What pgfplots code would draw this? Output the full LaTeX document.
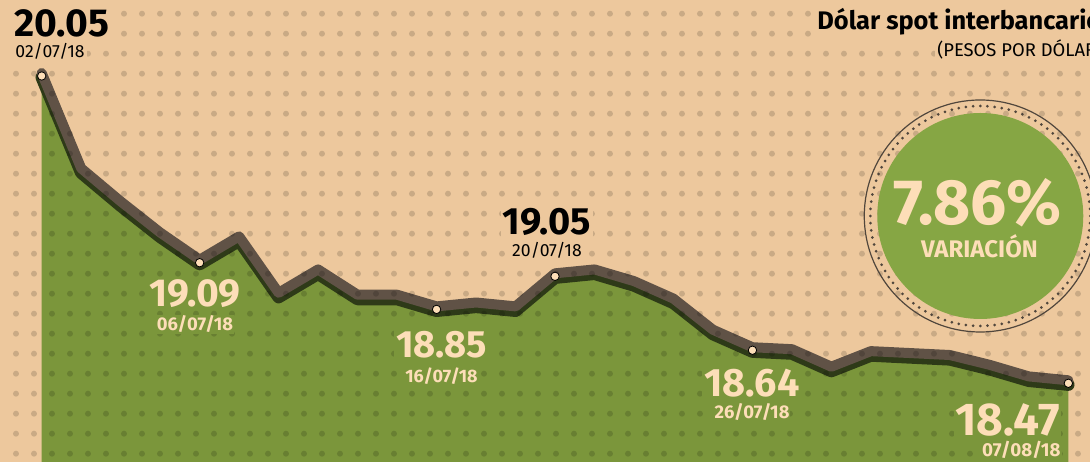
\documentclass[border=0pt]{standalone}
\usepackage{fontspec}
\setmainfont{Fira Sans}
\usepackage{pgfplots}
\usepackage{pgfplotstable}
\pgfplotsset{compat=1.18}
\definecolor{bg}{RGB}{237,200,157}
\definecolor{areagreen}{RGB}{123,150,59}
\definecolor{badgegreen}{RGB}{134,166,68}
\definecolor{brownline}{RGB}{96,82,70}
\definecolor{shadow}{RGB}{46,58,24}
\definecolor{peach}{RGB}{253,222,184}
\definecolor{ring}{RGB}{80,70,60}

\pgfplotstableread{
i v
0 20.05
1 19.56
2 19.39
3 19.23
4 19.09
5 19.21
6 18.92
7 19.04
8 18.91
9 18.91
10 18.85
11 18.87
12 18.85
13 19.02
14 19.04
15 18.98
16 18.89
17 18.73
18 18.64
19 18.63
20 18.54
21 18.62
22 18.61
23 18.60
24 18.55
25 18.49
26 18.47
}\fx

\pgfplotstableread{
i v
0 20.05
4 19.09
10 18.85
13 19.02
18 18.64
26 18.47
}\marked

\pgfplotsset{base/.style={at={(0,0)},anchor=south west,scale only axis,
  width=545bp,height=231bp,xmin=-1.0561,xmax=26.549,ymin=18.0654,ymax=20.4407,hide axis}}

\begin{document}
\begin{tikzpicture}
\useasboundingbox (0,0) rectangle (545bp,231bp);
\clip (0,0) rectangle (545bp,231bp);
\fill[bg] (0,0) rectangle (545bp,231bp);
\begin{axis}[base]
\addplot[fill=areagreen,draw=none] table[x=i,y=v]{\fx} \closedcycle;
\addplot[draw=shadow,line width=6.2bp,line join=round,line cap=round,yshift=-0.7bp] table[x=i,y=v]{\fx};
\addplot[draw=brownline,line width=5bp,line join=round,line cap=round,yshift=1.5bp] table[x=i,y=v]{\fx};
\end{axis}
\begin{scope}[x=0.5bp,y=-0.5bp,yshift=231bp]
\fill[black,opacity=0.15] \foreach \i in {0,...,60} {\foreach \j in {0,...,22} {(16+18*\i,13.7+20*\j) circle (1.5bp)}};
\draw[ring,line width=0.6bp] (980.3,216) circle (58bp);
\draw[ring,line width=1.5bp,line cap=round,dash pattern=on 0bp off 3.6bp] (980.3,216) circle (55bp);
\fill[badgegreen] (980.3,216) circle (51.5bp);
\end{scope}
\begin{axis}[base]
\addplot[only marks,mark=*,mark size=2.1bp,mark options={fill=peach,draw=none}] table[x=i,y=v]{\marked};
\end{axis}
\begin{scope}[x=0.5bp,y=-0.5bp,yshift=231bp]
\node[anchor=base west,inner sep=1bp,fill=bg,font=\bfseries\fontsize{19.5bp}{20bp}\selectfont] at (12,37) {20.05};
\node[anchor=base west,inner sep=1bp,fill=bg,font=\fontsize{8.8bp}{9bp}\selectfont] at (13,58) {02/07/18};
\node[anchor=base,inner sep=1bp,fill=areagreen,text=peach,font=\bfseries\fontsize{19.5bp}{20bp}\selectfont] at (195,307) {19.09};
\node[anchor=base,inner sep=0.5bp,fill=areagreen,text=peach,font=\bfseries\fontsize{9.2bp}{9.2bp}\selectfont] at (195,331) {06/07/18};
\node[anchor=base,inner sep=1bp,fill=bg,font=\bfseries\fontsize{19bp}{19bp}\selectfont] at (547,235) {19.05};
\node[anchor=base,inner sep=0.5bp,fill=bg,font=\fontsize{8.8bp}{9bp}\selectfont] at (547,256.7) {20/07/18};
\node[anchor=base,inner sep=1bp,fill=areagreen,text=peach,font=\bfseries\fontsize{19bp}{19bp}\selectfont] at (441.7,358) {18.85};
\node[anchor=base,inner sep=0.5bp,fill=areagreen,text=peach,font=\bfseries\fontsize{9bp}{9bp}\selectfont] at (441.5,382.7) {16/07/18};
\node[anchor=base,inner sep=1bp,fill=areagreen,text=peach,font=\bfseries\fontsize{19.8bp}{20bp}\selectfont] at (752,396.7) {18.64};
\node[anchor=base,inner sep=0.5bp,fill=areagreen,text=peach,font=\bfseries\fontsize{9.2bp}{9.2bp}\selectfont] at (752,418.3) {26/07/18};
\node[anchor=base east,inner sep=0.5bp,fill=areagreen,text=peach,font=\bfseries\fontsize{23bp}{23bp}\selectfont] at (1061,436) {18.47};
\node[anchor=base east,inner sep=0.5bp,fill=areagreen,text=peach,font=\bfseries\fontsize{9.4bp}{9.4bp}\selectfont] at (1062,456.7) {07/08/18};
\node[anchor=base,inner sep=0bp,text=peach,font=\bfseries\fontsize{32bp}{32bp}\selectfont] at (977.5,225) {7.86\%};
\node[anchor=base,inner sep=0bp,text=peach,font=\bfseries\fontsize{12bp}{12bp}\selectfont] at (979.5,257.3) {VARIACIÓN};
\node[anchor=base west,inner sep=1bp,fill=bg,font=\bfseries\fontsize{12.7bp}{13bp}\selectfont] at (815,30) {Dólar spot interbancario};
\node[anchor=base west,inner sep=1bp,fill=bg,font=\fontsize{9.2bp}{9.5bp}\selectfont] at (935,56.7) {(PESOS POR DÓLAR)};
\end{scope}
\end{tikzpicture}
\end{document}
